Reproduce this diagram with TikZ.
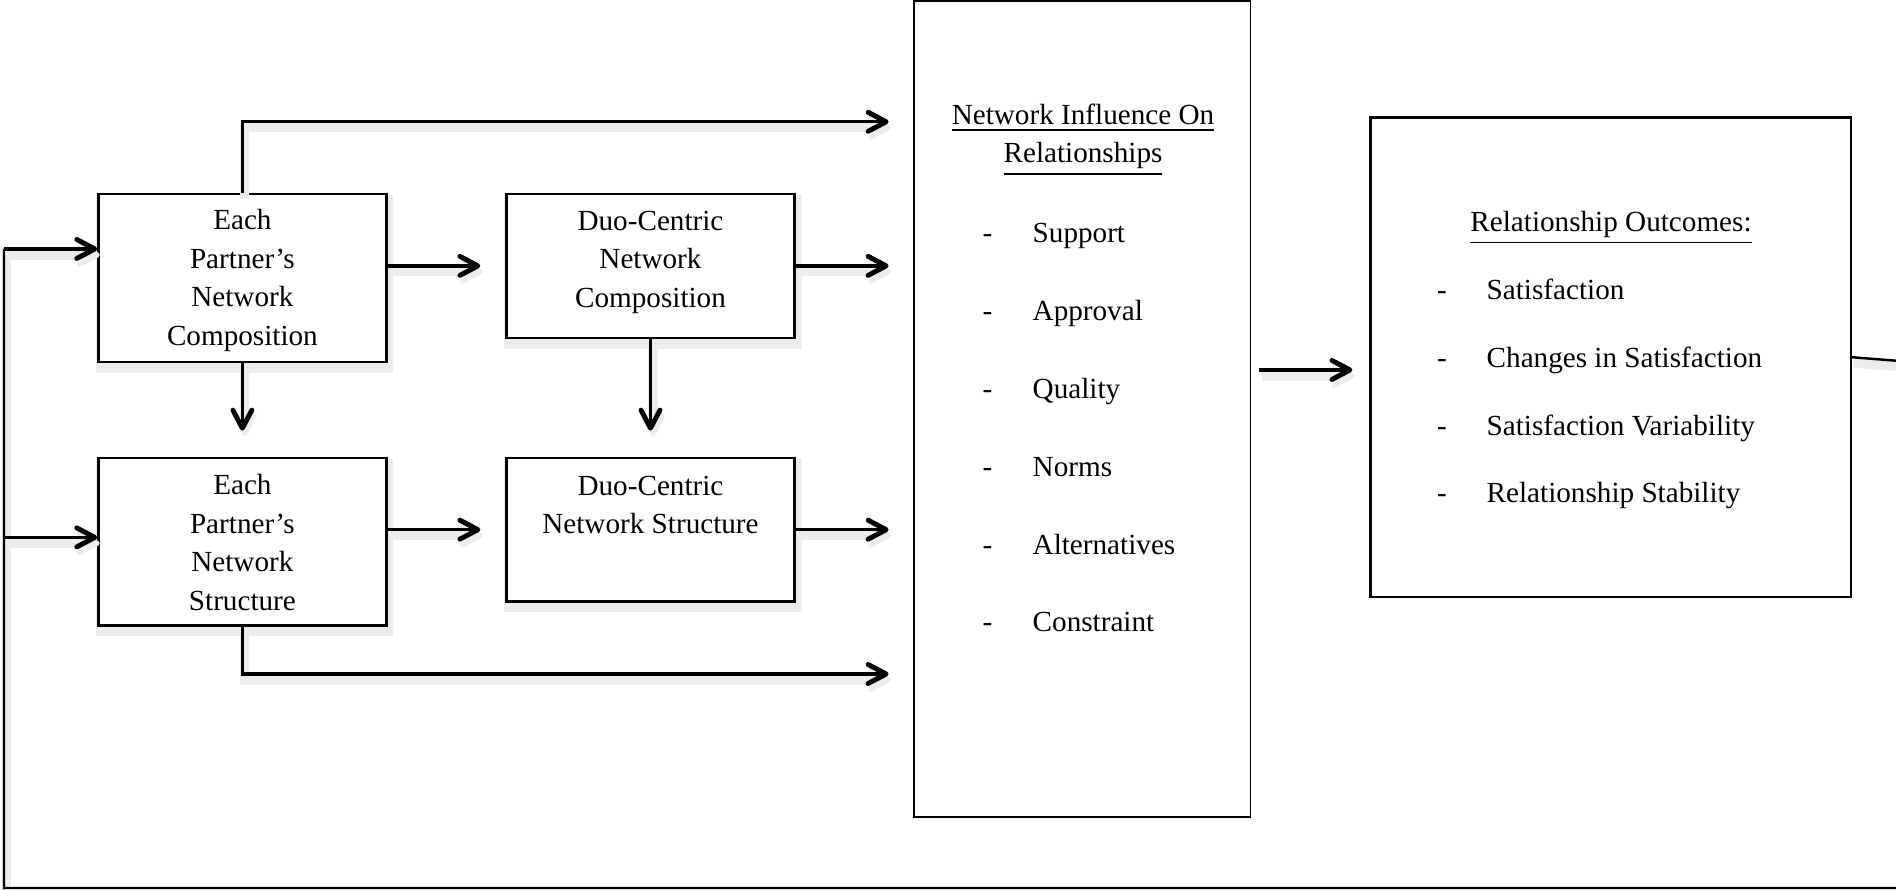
\documentclass[tikz,border=0pt]{standalone}
\usepackage{fontspec}
\setmainfont{Liberation Serif}
\usepackage{tikz}
\usetikzlibrary{positioning, arrows.meta, calc}
\definecolor{FigShade}{RGB}{236,236,236}

\begin{document}
\begin{tikzpicture}[
          soft/.style={preaction={draw=FigShade, line width=2.6pt,
                       transform canvas={shift={(0.25mm,-0.6mm)}}}},
          box/.style={rectangle, draw, line width=0.65pt, fill=white,
                      minimum width=2.88cm, inner sep=0pt},
          txt/.style={inner sep=0pt, font=\fontsize{8.3}{11}\selectfont},
          btxt/.style={txt, align=center},
          arr/.style={-{Straight Barb[length=1.8mm, width=1.9mm, line width=1.4pt, round]},
                      line width=0.95pt, soft},
          fback/.style={line width=0.7pt, soft}
        ]
        \useasboundingbox (0,0) rectangle (18.96,8.90);

        % left column: each partner, right column: duo-centric
        \node[box, soft, minimum height=1.682cm] (epcomp) at (2.424, 6.121) {};
        \node[box, soft, minimum height=1.442cm] (dccomp) at (6.505, 6.241) {};
        \node[box, soft, minimum height=1.677cm] (epstruc) at (2.424, 3.484) {};
        \node[box, soft, minimum height=1.439cm] (dcstruc) at (6.505, 3.603) {};
        \node[btxt, below=1.6mm of epcomp.north] (epcomptxt)
              {Each\\Partner’s\\Network\\Composition};
        \node[btxt, below=1.75mm of dccomp.north] (dccomptxt)
              {Duo-Centric\\Network\\Composition};
        \node[btxt, below=1.7mm of epstruc.north] (epstructxt)
              {Each\\Partner’s\\Network\\Structure};
        \node[btxt, below=1.85mm of dcstruc.north] (dcstructxt)
              {Duo-Centric\\Network Structure};

        % influence column
        \node[box, line width=0.45pt, minimum width=3.366cm, minimum height=8.16cm]
              (influence) at (10.823, 4.81) {};
        \node[txt, anchor=base] (inftitle) at (10.83, 7.65)
              {\underline{Network Influence On}};
        \node[txt, anchor=base] (inftitleb) at (10.83, 7.27)
              {\underline{Relationships}};
        \foreach \k/\lbl in {0/Support, 1/Approval, 2/Quality, 3/Norms,
                             4/Alternatives, 5/Constraint} {
          \node[txt, anchor=base] (infdash\k) at (9.875, 6.47-0.778*\k) {-};
          \node[txt, anchor=base west] (inf\k) at (10.32, 6.47-0.778*\k) {\lbl};
        }

        % outcomes
        \node[box, line width=0.6pt, minimum width=4.803cm, minimum height=4.795cm]
              (outcomes) at (16.106, 5.3275) {};
        \node[txt, anchor=base] (outtitle) at (16.11, 6.585)
              {\underline{Relationship Outcomes:}};
        \foreach \k/\lbl in {0/Satisfaction, 1/Changes in Satisfaction,
                             2/Satisfaction Variability, 3/Relationship Stability} {
          \node[txt, anchor=base] (outdash\k) at (14.42, 5.903-0.677*\k) {-};
          \node[txt, anchor=base west] (out\k) at (14.86, 5.903-0.677*\k) {\lbl};
        }

        % arrows into the influence box
        \coordinate (infin) at (8.886, 7.682);
        \coordinate (infbot) at (8.886, 2.16);
        \draw[arr] (epcomp.north) |- (infin);
        \draw[arr, shorten >=2.5mm] (epcomp.east |- dccomp.west) -- (dccomp.west);
        \draw[arr] (dccomp.east) -- (dccomp.east -| infin);
        \draw[arr, shorten >=2.6mm] (epcomp) -- (epstruc);
        \draw[arr, shorten >=2.6mm] (dccomp) -- (dcstruc);
        \draw[arr, shorten >=2.5mm] (epstruc.east |- dcstruc.west) -- (dcstruc.west);
        \draw[arr] (dcstruc.east) -- (dcstruc.east -| infin);
        \draw[arr] (epstruc.south) |- (infbot);

        \coordinate (mid) at (0, 5.20);
        \draw[arr, shorten <=0.8mm, shorten >=1.7mm]
              (influence.east |- mid) -- (outcomes.west |- mid);

        % feedback round the frame
        \coordinate (fbR) at (18.995, 5.29);
        \coordinate (fbB) at (0.04, 0.02);
        \coordinate (fbA) at (0.04, 6.41);
        \coordinate (fbC) at (0.04, 3.526);
        \draw[fback] (outcomes.east) -- (fbR) -- (fbR |- fbB) -- (fbB) -- (fbA);
        \draw[arr] (fbA) -- (fbA -| epcomp.west);
        \draw[arr] (fbC) -- (fbC -| epstruc.west);
      \end{tikzpicture}
\end{document}
